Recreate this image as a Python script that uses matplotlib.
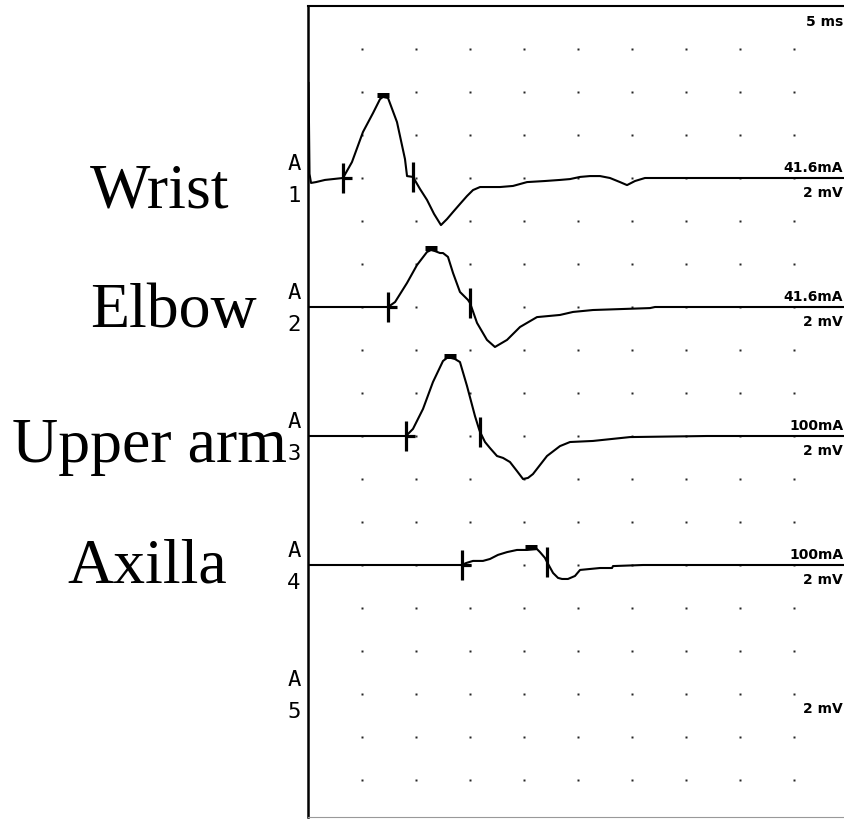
import matplotlib.pyplot as plt
import numpy as np

# Nerve conduction study, 4 stimulation sites, 5 ms/div, 2 mV/div
sites = ["Wrist", "Elbow", "Upper arm", "Axilla"]
stim_labels = ["41.6mA", "41.6mA", "100mA", "100mA"]
channel_names = ["1", "2", "3", "4", "5"]
sweep_label = "5 ms"
gain_label = "2 mV"

# traces: time [ms], amplitude [mV]
t1 = [0.05, 0.14, 0.28, 0.74, 1.57, 3.24, 4.07, 5.09, 6.02, 6.67, 6.94, 7.41, 8.24, 8.98, 9.17, 9.72,
      10.37, 11.02, 11.67, 12.31, 12.87, 13.43, 14.07, 14.72, 15.28, 15.93, 17.78, 18.98, 20.28, 21.94,
      23.33, 24.26, 25.19, 26.11, 27.04, 27.96, 28.89, 29.54, 30.28, 31.20, 36.30, 50.0]
a1 = [4.42, 0.19, -0.23, -0.19, -0.09, 0.0, 0.74, 2.14, 3.02, 3.67, 3.77, 3.72, 2.60, 0.88, 0.09, 0.05,
      -0.51, -1.02, -1.67, -2.19, -1.91, -1.58, -1.21, -0.84, -0.56, -0.42, -0.42, -0.37, -0.19, -0.14,
      -0.09, -0.05, 0.05, 0.09, 0.09, 0.0, -0.19, -0.33, -0.14, 0.0, 0.0, 0.0]

t2 = [0.0, 7.41, 8.06, 9.17, 10.09, 11.02, 11.39, 11.76, 12.22, 12.5, 12.96, 13.43, 14.07, 14.81, 15.0,
      15.65, 16.57, 17.31, 18.43, 19.63, 21.20, 23.33, 24.54, 26.39, 31.67, 32.13, 50.0]
a2 = [0.0, 0.0, 0.23, 1.12, 1.95, 2.56, 2.65, 2.60, 2.51, 2.51, 2.33, 1.58, 0.70, 0.33, 0.19,
      -0.74, -1.53, -1.86, -1.53, -0.93, -0.47, -0.37, -0.23, -0.14, -0.05, 0.0, 0.0]

t3 = [0.0, 9.07, 9.72, 10.65, 11.57, 12.5, 12.87, 13.24, 13.61, 14.07, 14.72, 15.46, 15.83, 15.93, 16.39,
      16.85, 17.5, 18.06, 18.70, 19.35, 19.91, 20.37, 20.83, 21.48, 22.13, 23.33, 24.26, 26.39, 29.81,
      36.94, 50.0]
a3 = [0.0, 0.0, 0.33, 1.26, 2.51, 3.49, 3.63, 3.63, 3.58, 3.44, 2.33, 0.93, 0.33, 0.19, -0.28,
      -0.56, -0.93, -1.02, -1.21, -1.63, -2.0, -1.95, -1.77, -1.35, -0.93, -0.47, -0.28, -0.23, -0.05,
      0.0, 0.0]

t4 = [0.0, 14.26, 14.63, 15.28, 16.2, 16.85, 17.59, 18.43, 19.35, 20.28, 21.2, 21.48, 21.94, 22.13,
      22.69, 23.15, 23.52, 24.07, 24.72, 25.19, 27.04, 28.15, 28.24, 31.02, 50.0]
a4 = [0.0, 0.0, 0.09, 0.19, 0.19, 0.28, 0.47, 0.60, 0.70, 0.70, 0.74, 0.60, 0.33, 0.14,
      -0.37, -0.60, -0.65, -0.65, -0.51, -0.23, -0.14, -0.14, -0.05, 0.0, 0.0]

# cursor marks: onset, negative peak, end [ms] and peak amplitude [mV]
onset = [3.24, 7.41, 9.07, 14.26]
peak_t = [6.94, 11.39, 13.15, 20.65]
peak_a = [3.77, 2.65, 3.63, 0.74]
end_t = [9.72, 15.0, 15.93, 22.13]

times = [t1, t2, t3, t4]
amps = [a1, a2, a3, a4]

ms_per_div = 5
mv_per_div = 2
n_xdiv = 10
baselines = [-8, -14, -20, -26, -32]   # channel offsets in mV (3 divisions apart)

W, H = 845, 820
fig = plt.figure(figsize=(W / 100, H / 100), dpi=100)
px = 54.0  # pixels per x division
py = 43.0  # pixels per y division
ax = fig.add_axes([308 / W, (H - 818) / H, n_xdiv * px / W, 811 / H])
ax.set_xlim(0, n_xdiv * ms_per_div)
ax.set_ylim(-811 / py * mv_per_div, 0)

# dotted grid
gx, gy = np.meshgrid(np.arange(1, n_xdiv) * ms_per_div, -np.arange(1, 19) * mv_per_div)
ax.plot(gx.ravel(), gy.ravel(), 's', ms=1.7, color='0.15', mec='none')

for i, (t, a) in enumerate(zip(times, amps)):
    y0 = baselines[i]
    ax.plot(t, np.asarray(a) + y0, color='black', lw=1.5, solid_joinstyle='round')
    # cursors
    ax.plot([onset[i]], [y0], marker='|', ms=21, mew=2.3, color='black')
    ax.plot([onset[i] + 0.35], [y0], marker='_', ms=7, mew=2.3, color='black')
    ax.plot([end_t[i]], [y0 + np.interp(end_t[i], t, a)], marker='|', ms=21, mew=2.3, color='black')
    ax.plot([peak_t[i]], [y0 + peak_a[i] + 0.08], marker='_', ms=8, mew=3.6, color='black')

    # labels right
    ax.text(49.55, y0 + 0.5, stim_labels[i], ha='right', va='center', fontsize=10,
            fontweight='bold', family='DejaVu Sans')

for i, y0 in enumerate(baselines):
    ax.text(49.55, y0 - 0.63, gain_label, ha='right', va='center', fontsize=10,
            fontweight='bold', family='DejaVu Sans')
    ax.text(-1.3, y0 + 0.70, "A", ha='center', va='center', fontsize=16, family='DejaVu Sans Mono',
            clip_on=False)
    ax.text(-1.3, y0 - 0.80, channel_names[i], ha='center', va='center', fontsize=16,
            family='DejaVu Sans Mono', clip_on=False)

ax.text(49.55, -0.70, sweep_label, ha='right', va='center', fontsize=10, fontweight='bold',
        family='DejaVu Sans')

# site names on the left
site_pos = [(160, 207), (173, 327), (150, 462), (147, 583)]
for name, (sx, sy) in zip(sites, site_pos):
    fig.text(sx / W, 1 - sy / H, name, ha='center', va='baseline', fontsize=46,
             family='Liberation Serif')

ax.set_xticks([])
ax.set_yticks([])
ax.spines['left'].set_linewidth(1.8)
ax.spines['top'].set_linewidth(1.5)
ax.spines['bottom'].set_linewidth(0.8)
ax.spines['bottom'].set_color('0.6')

fig.savefig("out.png", dpi=100)
